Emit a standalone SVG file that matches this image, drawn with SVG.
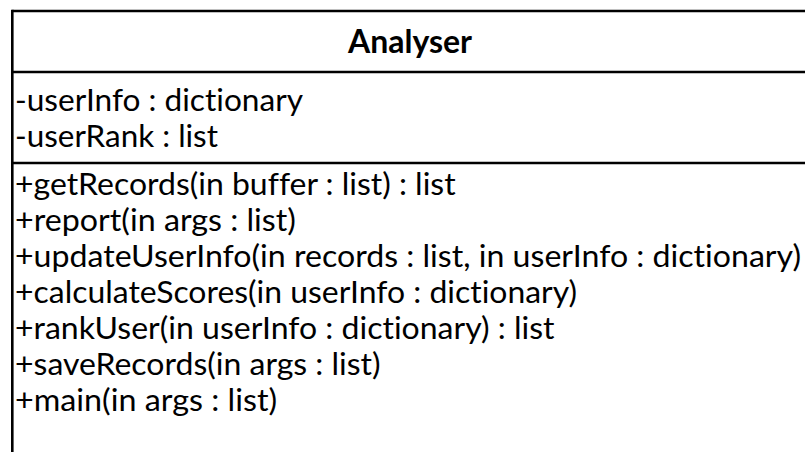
<svg xmlns="http://www.w3.org/2000/svg" width="805" height="452" viewBox="0 0 805 452">
  <style>
    .frame { stroke: #000; stroke-width: 2.6; fill: none; }
    .txt { font-family: Lato, "Open Sans", "Liberation Sans", sans-serif; font-size: 31.5px; fill: #000; font-variant-ligatures: none; }
    .title { font-weight: bold; text-anchor: middle; }
  </style>
  <rect x="0" y="0" width="805" height="452" fill="#fff"/>
  <!-- UML class box: Analyser -->
  <g id="class-Analyser">
    <line class="frame" x1="12.3" y1="11" x2="805" y2="11"/>
    <line class="frame" x1="12.3" y1="9.7" x2="12.3" y2="452"/>
    <line class="frame" x1="12.3" y1="72" x2="805" y2="72"/>
    <line class="frame" x1="12.3" y1="163" x2="805" y2="163"/>

    <text class="txt title" x="410" y="53" textLength="124" lengthAdjust="spacingAndGlyphs">Analyser</text>

    <g id="attributes">
      <text class="txt" x="15" y="110.5" textLength="288" lengthAdjust="spacingAndGlyphs">-userInfo : dictionary</text>
      <text class="txt" x="15" y="147" textLength="203" lengthAdjust="spacingAndGlyphs">-userRank : list</text>
    </g>

    <g id="operations">
      <text class="txt" x="15" y="194.5" textLength="440.6" lengthAdjust="spacingAndGlyphs">+getRecords(in buffer : list) : list</text>
      <text class="txt" x="15" y="230.6" textLength="280.9" lengthAdjust="spacingAndGlyphs">+report(in args : list)</text>
      <text class="txt" x="15" y="266.7" textLength="786" lengthAdjust="spacingAndGlyphs">+updateUserInfo(in records : list, in userInfo : dictionary)</text>
      <text class="txt" x="15" y="302.8" textLength="562" lengthAdjust="spacingAndGlyphs">+calculateScores(in userInfo : dictionary)</text>
      <text class="txt" x="15" y="338.9" textLength="539.5" lengthAdjust="spacingAndGlyphs">+rankUser(in userInfo : dictionary) : list</text>
      <text class="txt" x="15" y="375" textLength="365.6" lengthAdjust="spacingAndGlyphs">+saveRecords(in args : list)</text>
      <text class="txt" x="15" y="411.1" textLength="262.1" lengthAdjust="spacingAndGlyphs">+main(in args : list)</text>
    </g>
  </g>
</svg>
